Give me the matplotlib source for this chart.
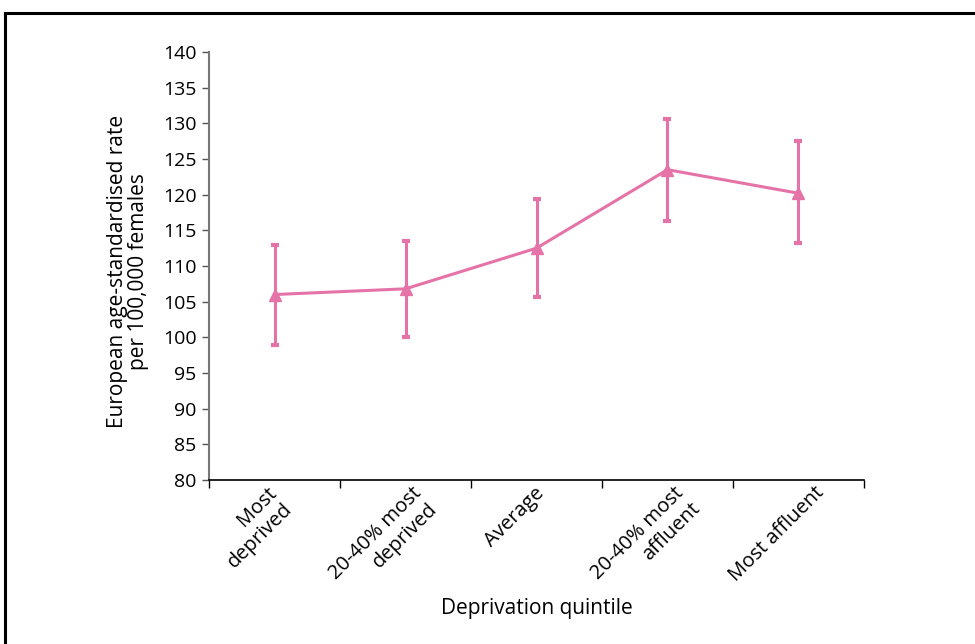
import matplotlib
matplotlib.use("Agg")
import matplotlib.pyplot as plt
from matplotlib.patches import Rectangle
from matplotlib.transforms import ScaledTranslation

categories = ["Most\ndeprived", "20-40% most\ndeprived", "Average", "20-40% most\naffluent", "Most affluent"]
rates = [106.0, 106.8, 112.5, 123.5, 120.2]
upper = [112.9, 113.5, 119.4, 130.6, 127.5]
lower = [98.9, 100.0, 105.7, 116.3, 113.2]
y_ticks = list(range(80, 141, 5))

plt.rcParams['font.family'] = ['Open Sans', 'DejaVu Sans']
color = '#E573A8'

fig = plt.figure(figsize=(9.75, 6.44), dpi=100)
ax = fig.add_axes([209/975, 1-480/644, (864-209)/975, (480-52)/644])

x = list(range(len(categories)))
yerr = [[r - l for r, l in zip(rates, lower)], [u - r for u, r in zip(upper, rates)]]
ax.errorbar(x, rates, yerr=yerr, color=color, lw=2.2, marker='^', ms=9,
            elinewidth=2.2, capsize=3, capthick=3, zorder=3)

ax.set_xlim(-0.5, len(categories) - 0.5)
ax.set_ylim(80, 140)
ax.set_yticks(y_ticks)
ax.set_xticks([i - 0.5 for i in range(len(categories) + 1)])
ax.set_xticklabels([])
ax.tick_params(axis='x', length=6, width=1, color='black', direction='out')
ax.tick_params(axis='y', length=5, width=1, color='#555555', labelsize=14, pad=4)

# rotated category labels, centred slightly left of each category
label_tr = ax.get_xaxis_transform() + ScaledTranslation(-22/100, -3/100, fig.dpi_scale_trans)
for xi, cat in zip(x, categories):
    ax.text(xi, 0, cat, transform=label_tr, rotation=45,
            ha='center', va='top', multialignment='right', fontsize=14.5,
            linespacing=1.2, clip_on=False)

for s in ['top', 'right']:
    ax.spines[s].set_visible(False)
ax.spines['left'].set_color('#777777')
ax.spines['left'].set_linewidth(1.5)
ax.spines['bottom'].set_color('black')
ax.spines['bottom'].set_linewidth(1.2)

ax.set_ylabel("European age-standardised rate\nper 100,000 females", fontsize=15,
              linespacing=1.0)
ax.yaxis.set_label_coords(-0.092, 0.487)
ax.set_xlabel("Deprivation quintile", fontsize=15)
ax.xaxis.set_label_coords(0.5, -0.275)

fig.patches.append(Rectangle((4.5/975, -0.05), 1.1, 0.05 + 1 - 12.5/644, transform=fig.transFigure,
                             fill=False, edgecolor='black', lw=2.2))

fig.savefig("out.png", dpi=100)
